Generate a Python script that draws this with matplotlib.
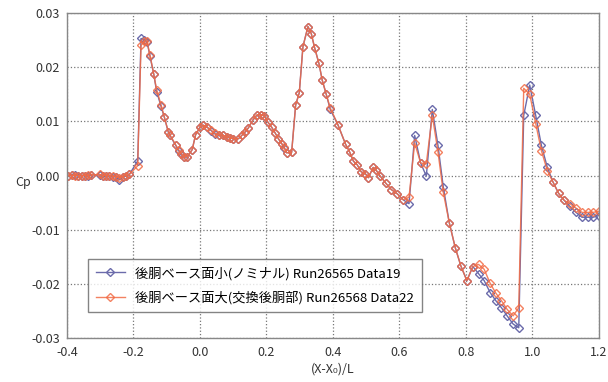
import numpy as np
import matplotlib
matplotlib.use("Agg")
import matplotlib.pyplot as plt

plt.rcParams['font.family'] = ['Noto Sans CJK JP', 'DejaVu Sans']
plt.rcParams['axes.unicode_minus'] = False

# station (X-X0)/L
x = [-0.396, -0.386, -0.376, -0.366, -0.356, -0.346, -0.336, -0.326,
     -0.301, -0.292, -0.282, -0.272, -0.262, -0.252, -0.242, -0.232,
     -0.222, -0.212, -0.187, -0.177, -0.167, -0.159, -0.150, -0.139,
     -0.130, -0.117, -0.107, -0.095, -0.090, -0.073, -0.063, -0.056,
     -0.048, -0.038, -0.023, -0.013, 0.000, 0.010, 0.022, 0.034,
     0.044, 0.057, 0.069, 0.081, 0.092, 0.101, 0.116, 0.126,
     0.136, 0.146, 0.159, 0.171, 0.183, 0.194, 0.204, 0.216,
     0.226, 0.236, 0.246, 0.254, 0.261, 0.276, 0.288, 0.299,
     0.310, 0.325, 0.335, 0.345, 0.358, 0.368, 0.380, 0.392,
     0.415, 0.438, 0.450, 0.462, 0.473, 0.485, 0.498, 0.507,
     0.521, 0.530, 0.541, 0.559, 0.576, 0.594, 0.612, 0.629,
     0.646, 0.664, 0.681, 0.699, 0.716, 0.732, 0.750, 0.768,
     0.785, 0.803, 0.821, 0.838, 0.855, 0.873, 0.890, 0.907,
     0.924, 0.942, 0.959, 0.974, 0.992, 1.010, 1.027, 1.045,
     1.062, 1.079, 1.096, 1.113, 1.131, 1.149, 1.166, 1.183,
     1.199]

# Run26565 Data19 (nominal)
cp_small = [0.0000, 0.0001, 0.0001, 0.0000, -0.0001, 0.0000, 0.0000, 0.0001,
            0.0001, 0.0000, -0.0001, -0.0001, -0.0002, -0.0003, -0.0008, -0.0003,
            -0.0001, 0.0002, 0.0027, 0.0253, 0.0250, 0.0247, 0.0220, 0.0188,
            0.0155, 0.0128, 0.0108, 0.0080, 0.0074, 0.0056, 0.0045, 0.0039,
            0.0034, 0.0034, 0.0048, 0.0075, 0.0089, 0.0093, 0.0089, 0.0083,
            0.0077, 0.0075, 0.0074, 0.0071, 0.0069, 0.0068, 0.0068, 0.0074,
            0.0080, 0.0088, 0.0102, 0.0111, 0.0112, 0.0110, 0.0099, 0.0089,
            0.0079, 0.0068, 0.0059, 0.0051, 0.0042, 0.0043, 0.0130, 0.0153,
            0.0238, 0.0275, 0.0262, 0.0236, 0.0207, 0.0176, 0.0150, 0.0122,
            0.0094, 0.0058, 0.0044, 0.0026, 0.0020, 0.0007, 0.0003, -0.0004,
            0.0015, 0.0010, 0.0000, -0.0014, -0.0026, -0.0034, -0.0045, -0.0052,
            0.0074, 0.0023, -0.0001, 0.0122, 0.0056, -0.0021, -0.0087, -0.0133,
            -0.0167, -0.0194, -0.0168, -0.0181, -0.0194, -0.0216, -0.0231, -0.0244,
            -0.0259, -0.0274, -0.0281, 0.0111, 0.0167, 0.0111, 0.0056, 0.0015,
            -0.0012, -0.0033, -0.0046, -0.0057, -0.0068, -0.0077, -0.0077, -0.0077,
            -0.0074]

# Run26568 Data22 (replaced aft body)
cp_large = [0.0000, 0.0001, 0.0000, 0.0000, -0.0001, 0.0000, 0.0001, 0.0001,
            0.0002, 0.0000, 0.0000, -0.0001, -0.0001, -0.0002, -0.0004, -0.0002,
            0.0000, 0.0002, 0.0018, 0.0240, 0.0248, 0.0248, 0.0222, 0.0188,
            0.0158, 0.0131, 0.0108, 0.0081, 0.0075, 0.0057, 0.0047, 0.0040,
            0.0034, 0.0035, 0.0048, 0.0075, 0.0089, 0.0093, 0.0089, 0.0084,
            0.0078, 0.0075, 0.0074, 0.0071, 0.0069, 0.0068, 0.0068, 0.0074,
            0.0081, 0.0088, 0.0102, 0.0112, 0.0112, 0.0110, 0.0099, 0.0089,
            0.0079, 0.0068, 0.0059, 0.0052, 0.0042, 0.0043, 0.0130, 0.0153,
            0.0238, 0.0275, 0.0262, 0.0236, 0.0207, 0.0176, 0.0150, 0.0125,
            0.0094, 0.0058, 0.0044, 0.0027, 0.0020, 0.0007, 0.0003, -0.0004,
            0.0015, 0.0010, 0.0000, -0.0014, -0.0026, -0.0034, -0.0045, -0.0040,
            0.0060, 0.0023, 0.0022, 0.0111, 0.0044, -0.0031, -0.0087, -0.0133,
            -0.0167, -0.0194, -0.0168, -0.0164, -0.0173, -0.0199, -0.0217, -0.0231,
            -0.0247, -0.0259, -0.0244, 0.0161, 0.0150, 0.0096, 0.0046, 0.0009,
            -0.0012, -0.0033, -0.0046, -0.0052, -0.0060, -0.0068, -0.0068, -0.0068,
            -0.0066]

labels = ['後胴ベース面小(ノミナル) Run26565 Data19',
          '後胴ベース面大(交換後胴部) Run26568 Data22']

fig = plt.figure(figsize=(6.08, 3.82), dpi=100)
ax = fig.add_axes([0.110, 0.115, 0.875, 0.851])

ax.plot(x, cp_small, '-D', color='#6b6bab', lw=1.0, ms=4.0, mew=1.0,
        mfc='none', label=labels[0])
ax.plot(x, cp_large, '-D', color='#f26b45', lw=1.0, ms=4.0, mew=1.0,
        mfc='none', alpha=0.85, label=labels[1])

ax.set_xlim(-0.4, 1.2)
ax.set_ylim(-0.03, 0.03)
ax.set_xticks(np.arange(-0.4, 1.21, 0.2))
ax.set_yticks(np.arange(-0.03, 0.031, 0.01))
ax.xaxis.set_major_formatter(matplotlib.ticker.FormatStrFormatter('%.1f'))
ax.yaxis.set_major_formatter(matplotlib.ticker.FormatStrFormatter('%.2f'))
ax.tick_params(length=0, labelsize=9, colors='#333333')
ax.tick_params(axis='x', pad=6)
ax.tick_params(axis='y', pad=5)
ax.grid(True, ls=':', color='#777777', lw=0.9)
for s in ax.spines.values():
    s.set_color('#888888')
    s.set_linewidth(1.0)

ax.set_xlabel('(X-X₀)/L', fontsize=9, color='#333333', labelpad=2)
ax.set_ylabel('Cp', fontsize=9, rotation=0, color='#333333', va='center')
ax.yaxis.set_label_coords(-0.083, 0.48)

leg = ax.legend(loc='lower left', bbox_to_anchor=(0.039, 0.08), fontsize=9.5,
                frameon=True, fancybox=False, borderpad=0.6, labelspacing=0.8,
                handlelength=2.2, borderaxespad=0)
leg.get_frame().set_edgecolor('#666666')
leg.get_frame().set_linewidth(1.0)

fig.savefig('out.png', dpi=100)
